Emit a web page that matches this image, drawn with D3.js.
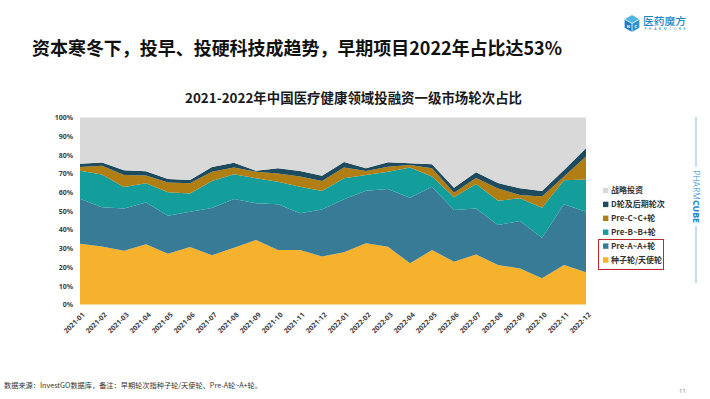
<!DOCTYPE html>
<html>
<head>
<meta charset="utf-8">
<script src="https://cdn.jsdelivr.net/npm/d3@7"></script>
<style>
  html, body { margin: 0; padding: 0; background: #ffffff; }
  svg { display: block; }
</style>
</head>
<body>
<script>
// ---------- DATA ----------
const months = ["2021-01","2021-02","2021-03","2021-04","2021-05","2021-06","2021-07","2021-08","2021-09","2021-10","2021-11","2021-12",
                "2022-01","2022-02","2022-03","2022-04","2022-05","2022-06","2022-07","2022-08","2022-09","2022-10","2022-11","2022-12"];
const seedAngel = [32.5,31.0,28.8,32.2,27.2,30.8,26.3,30.4,34.5,29.1,29.1,25.7,28.0,32.7,30.9,22.0,29.1,22.9,26.8,21.1,19.3,14.0,21.1,17.2];
const preA      = [24.0,21.0,22.5,22.4,20.3,18.8,25.3,26.0,19.6,24.5,19.7,25.1,28.3,28.1,30.9,35.1,33.9,27.6,24.6,21.4,25.4,21.7,32.5,32.4];
const preB      = [15.0,17.5,11.6,10.2,12.5, 9.7,14.4,13.2,13.4,12.1,14.2, 9.9,11.2, 8.5, 9.2,16.1, 5.4, 6.8,13.1,13.0,12.1,16.1,12.9,17.3];
const preC      = [ 2.0, 4.7, 6.3, 4.2, 5.2, 5.5, 5.0, 3.6, 3.5, 4.4, 5.4, 5.3, 5.7, 2.1, 2.7, 1.4, 4.4, 2.5, 3.1, 6.5, 1.8, 5.9, 1.9,12.2];
const dLater    = [ 1.8, 1.8, 2.6, 2.2, 1.9, 1.8, 2.5, 2.6, 0.5, 2.7, 3.0, 2.8, 3.0, 1.4, 2.4, 0.9, 2.2, 2.7, 3.1, 3.0, 3.5, 3.0, 3.5, 4.4];
const strategic = [24.7,24.0,28.2,28.8,32.9,33.4,26.5,24.2,28.5,27.2,28.6,31.2,23.8,27.2,23.9,24.5,25.0,37.5,29.3,35.0,37.9,39.3,28.1,16.5];
const seriesNames = ["种子轮/天使轮","Pre-A~A+轮","Pre-B~B+轮","Pre-C~C+轮","D轮及后期轮次","战略投资"];
const yTicks = [0,10,20,30,40,50,60,70,80,90,100];
const mainTitle = "资本寒冬下，投早、投硬科技成趋势，早期项目2022年占比达53%";
const chartTitle = "2021-2022年中国医疗健康领域投融资一级市场轮次占比";
const footnote = "数据来源：InvestGO数据库，备注：早期轮次指种子轮/天使轮、Pre-A轮~A+轮。";
const pageNo = "11";

// ---------- STYLE ----------
const colors = ["#F6B12D","#387B97","#139E9B","#B17E14","#1F4B5E","#D9D9D9"];
const W = 710, H = 399;
const plot = {left: 80, right: 586, top: 117.5, bottom: 304.5};

const keys = ["s0","s1","s2","s3","s4","s5"];
const seriesArrays = [seedAngel, preA, preB, preC, dLater, strategic];
const rows = months.map((m, i) => {
  const r = {month: m};
  keys.forEach((k, j) => r[k] = seriesArrays[j][i]);
  return r;
});

const svg = d3.select("body").append("svg")
  .attr("width", W).attr("height", H)
  .style("font-family", "'Noto Sans CJK SC', 'Noto Sans', sans-serif");

svg.append("rect").attr("width", W).attr("height", H).attr("fill", "#ffffff");

// Main title
svg.append("text")
  .attr("x", 32).attr("y", 55)
  .attr("font-size", 18).attr("font-weight", 700).attr("fill", "#111")
  .attr("textLength", 530).attr("lengthAdjust", "spacingAndGlyphs")
  .text(mainTitle);

// Chart title
svg.append("text")
  .attr("x", 185).attr("y", 103)
  .attr("font-size", 13.3).attr("font-weight", 700).attr("fill", "#1a1a1a")
  .attr("textLength", 337).attr("lengthAdjust", "spacingAndGlyphs")
  .text(chartTitle);

// Scales
const x = d3.scalePoint().domain(months).range([plot.left, plot.right]);
const y = d3.scaleLinear().domain([0, 100]).range([plot.bottom, plot.top]);

const stack = d3.stack().keys(keys);
const stacked = stack(rows);

const area = d3.area()
  .x(d => x(d.data.month))
  .y0(d => y(d[0]))
  .y1(d => y(d[1]));

svg.append("g").selectAll("path")
  .data(stacked)
  .join("path")
  .attr("d", area)
  .attr("fill", (d, i) => colors[i]);

// Y axis
const yAxis = svg.append("g")
  .attr("transform", `translate(${plot.left},0)`)
  .call(d3.axisLeft(y).tickValues(yTicks).tickFormat(d => d + "%").tickSize(0).tickPadding(7));
yAxis.select(".domain").remove();
yAxis.selectAll("text")
  .attr("font-family", "'Noto Sans', 'Open Sans', sans-serif")
  .attr("font-size", 7).attr("font-weight", 700).attr("fill", "#404040");

// X axis
const xAxis = svg.append("g")
  .attr("transform", `translate(0,${plot.bottom})`)
  .call(d3.axisBottom(x).tickSize(0));
xAxis.select(".domain").remove();
xAxis.selectAll("text")
  .attr("x", 0).attr("y", 0).attr("dy", "0.35em")
  .attr("text-anchor", "end")
  .attr("transform", "translate(3,9) rotate(-45)")
  .attr("font-family", "'Noto Sans', 'Open Sans', sans-serif")
  .attr("font-size", 7).attr("font-weight", 700).attr("fill", "#404040");

// Legend
const legendOrder = [5,4,3,2,1,0];
const lg = svg.append("g");
legendOrder.forEach((si, k) => {
  const cy = 190.5 + k * 13.9;
  lg.append("rect").attr("x", 603).attr("y", cy - 2.7).attr("width", 5.4).attr("height", 5.4).attr("fill", colors[si]);
  lg.append("text").attr("x", 611).attr("y", cy).attr("dy", "0.35em")
    .attr("font-size", 8).attr("font-weight", 700).attr("fill", "#333")
    .text(seriesNames[si]);
});
lg.append("rect").attr("x", 598.5).attr("y", 239.5).attr("width", 65).attr("height", 30)
  .attr("fill", "none").attr("stroke", "#C0272D").attr("stroke-width", 1);

// Logo
const logo = svg.append("g").attr("transform", "translate(632,23.5)");
const r = 8.5;
const hx = a => r * Math.cos(a * Math.PI / 180), hy = a => r * Math.sin(a * Math.PI / 180);
logo.append("path").attr("d", `M0,0 L${hx(-150)},${hy(-150)} L0,${-r} L${hx(-30)},${hy(-30)} Z`).attr("fill", "#4DB4E4");
logo.append("path").attr("d", `M0,0 L${hx(-150)},${hy(-150)} L${hx(150)},${hy(150)} L0,${r} Z`).attr("fill", "#1E7DC2");
logo.append("path").attr("d", `M0,0 L${hx(-30)},${hy(-30)} L${hx(30)},${hy(30)} L0,${r} Z`).attr("fill", "#2A93D2");
logo.append("path").attr("d", `M0,0 L${hx(-150)},${hy(-150)} M0,0 L${hx(-30)},${hy(-30)} M0,0 L0,${r}`)
  .attr("stroke", "#fff").attr("stroke-width", 0.8);
logo.append("text").attr("x", -3.7).attr("y", 4.5).attr("text-anchor", "middle").attr("font-size", 4).attr("font-weight", 700).attr("fill", "#fff").attr("font-family", "'Noto Sans', sans-serif").text("N");
logo.append("text").attr("x", 3.7).attr("y", 4.5).attr("text-anchor", "middle").attr("font-size", 4).attr("font-weight", 700).attr("fill", "#fff").attr("font-family", "'Noto Sans', sans-serif").text("C");
svg.append("text").attr("x", 643).attr("y", 24.5)
  .attr("font-size", 10.5).attr("font-weight", 500).attr("fill", "#1B87C9")
  .attr("textLength", 43).attr("lengthAdjust", "spacingAndGlyphs").text("医药魔方");
svg.append("text").attr("x", 644.5).attr("y", 30)
  .attr("font-size", 3.4).attr("fill", "#1B87C9").attr("font-family", "'Noto Sans', sans-serif")
  .attr("textLength", 41).attr("lengthAdjust", "spacing").text("PHARMCUBE");

// Right vertical brand strip
svg.append("line").attr("x1", 696).attr("x2", 696).attr("y1", 117).attr("y2", 167).attr("stroke", "#6AAAD8").attr("stroke-width", 0.8);
svg.append("line").attr("x1", 696).attr("x2", 696).attr("y1", 226).attr("y2", 283).attr("stroke", "#6AAAD8").attr("stroke-width", 0.8);
const vt = svg.append("text")
  .attr("transform", "translate(693,170) rotate(90)")
  .attr("font-family", "'Noto Sans', 'Open Sans', sans-serif")
  .attr("font-size", 9).attr("fill", "#2A8CCB")
  .attr("textLength", 53).attr("lengthAdjust", "spacingAndGlyphs");
vt.append("tspan").attr("font-weight", 300).text("PHARM");
vt.append("tspan").attr("font-weight", 800).text("CUBE");

// Footnote and page number
svg.append("text").attr("x", 4).attr("y", 388)
  .attr("font-size", 7).attr("fill", "#333")
  .attr("font-family", "'Noto Sans CJK SC', 'Liberation Serif', serif")
  .attr("textLength", 258).attr("lengthAdjust", "spacingAndGlyphs")
  .text(footnote);
svg.append("text").attr("x", 679).attr("y", 393)
  .attr("font-size", 6).attr("fill", "#888")
  .attr("font-family", "'Noto Sans', sans-serif")
  .text(pageNo);
</script>
</body>
</html>
